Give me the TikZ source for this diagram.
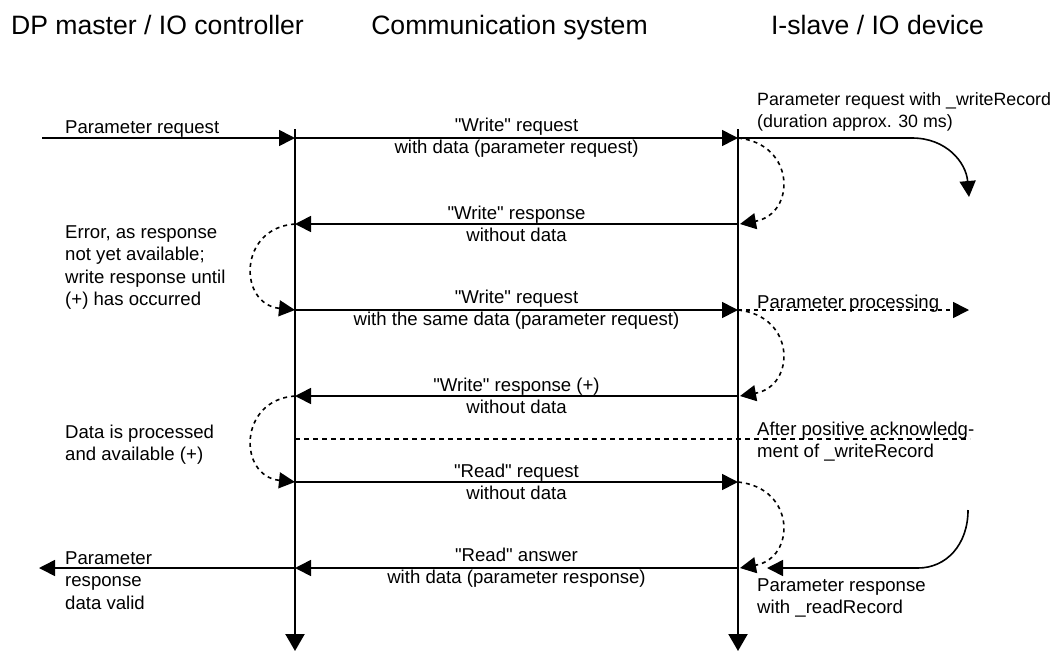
\documentclass[tikz,border=0pt]{standalone}
\usepackage{fontspec}
\setmainfont{Liberation Sans}[Ligatures=TeXOff]
\usetikzlibrary{arrows.meta}
\begin{document}
\begin{tikzpicture}[x=1pt,y=-1pt,
  lbl/.style={font=\fontsize{18.6}{22.3}\selectfont, inner sep=0pt, align=left},
  clbl/.style={font=\fontsize{18.6}{22.3}\selectfont, inner sep=0pt, align=center},
  hdr/.style={font=\fontsize{26.6}{30}\selectfont, inner sep=0pt, anchor=base},
  life/.style={line width=2.2pt, -{Triangle[length=17pt,width=19pt]}},
  msg/.style={line width=1.6pt, -{Triangle[length=16pt,width=16pt]}},
  loopar/.style={line width=1.6pt, dash pattern=on 4pt off 4pt, -{Triangle[length=16pt,width=16pt]}},
  sepline/.style={line width=1.6pt, dash pattern=on 5pt off 4pt},
]
\useasboundingbox (0,0) rectangle (1056,651);

% headers
\node[hdr] (h1) at (157.5,34) {DP master / IO controller};
\node[hdr] (h2) at (509.5,34) {Communication system};
\node[hdr] (h3) at (877.5,34) {I-slave / IO device};

% lifeline coordinates
\coordinate (Ltop) at (295,129);
\coordinate (Lbot) at (295,651);
\coordinate (Rtop) at (738,129);
\coordinate (Rbot) at (738,651);

% message rows
\foreach \i/\y in {1/138,2/224,3/310,4/396,5/482,6/568}{
  \coordinate (L\i) at (295,\y);
  \coordinate (R\i) at (738,\y);
}
\coordinate (Rr2) at (740,224);
\coordinate (Rr4) at (740,396);
\coordinate (Rr6) at (740,568);

\coordinate (inL) at (42,138);
\coordinate (outL) at (39,568);
\coordinate (topcurveA) at (912,138);
\coordinate (topcurveB) at (969,197);
\coordinate (ppEnd) at (969,310);
\coordinate (sepL) at (295,439);
\coordinate (sepR) at (970,439);
\coordinate (botcurveA) at (968,510);
\coordinate (botcurveB) at (918,568);
\coordinate (botEnd) at (767,568);

% lifelines
\draw[life] (Ltop) -- (Lbot);
\draw[life] (Rtop) -- (Rbot);

% messages
\draw[msg] (inL) -- (L1);
\draw[msg] (L1) -- (R1);
\draw[msg] (R2) -- (L2);
\draw[msg] (L3) -- (R3);
\draw[msg] (R4) -- (L4);
\draw[msg] (L5) -- (R5);
\draw[msg] (R6) -- (L6);
\draw[msg] (L6) -- (outL);

% right side
\draw[msg] (R1) -- (topcurveA) .. controls (946,138) and (966,162) .. (topcurveB);
\draw[loopar] (R3) -- (ppEnd);
\draw[msg] (botcurveA) .. controls (968,545) and (946,568) .. (botcurveB) -- (botEnd);

% loops at right lifeline
\draw[loopar] (R1) .. controls (796,144) and (796,214) .. (Rr2);
\draw[loopar] (R3) .. controls (796,316) and (796,386) .. (Rr4);
\draw[loopar] (R5) .. controls (796,488) and (796,558) .. (Rr6);

% loops at left lifeline
\draw[loopar] (L2) .. controls (238,228) and (238,304) .. (L3);
\draw[loopar] (L4) .. controls (238,400) and (238,476) .. (L5);

% separator
\draw[sepline] (sepL) -- (sepR);

% message labels
\node[clbl] (m1) at (516.5,138) {"Write" request\\with data (parameter request)};
\node[clbl] (m2) at (516.5,224) {"Write" response\\without data};
\node[clbl] (m3) at (516.5,310) {"Write" request\\with the same data (parameter request)};
\node[clbl] (m4) at (516.5,396) {"Write" response (+)\\without data};
\node[clbl] (m5) at (516.5,482) {"Read" request\\without data};
\node[clbl] (m6) at (516.5,568) {"Read" answer\\with data (parameter response)};

% left labels
\node[lbl, anchor=base west] (pr) at (65,133) {Parameter request};
\node[lbl, anchor=north west] (err) at (65,225.5) {Error, as response\\not yet available;\\write response until\\(+) has occurred};
\node[lbl, anchor=north west] (dp) at (65,425) {Data is processed\\and available (+)};
\node[lbl, anchor=north west] (prs) at (65,551.5) {Parameter\\response\\data valid};

% right labels
\node[lbl, anchor=north west, font=\fontsize{17.8}{22.3}\selectfont] (wr) at (757,92.5) {Parameter request with \_writeRecord\\(duration approx. 30 ms)};
\node[lbl, anchor=base west] (pp) at (757,308) {Parameter processing};
\node[lbl, anchor=north west] (ack) at (757,421.5) {After positive acknowledg-\\ment of \_writeRecord};
\node[lbl, anchor=north west] (rr) at (757,578) {Parameter response\\with \_readRecord};
\end{tikzpicture}
\end{document}
